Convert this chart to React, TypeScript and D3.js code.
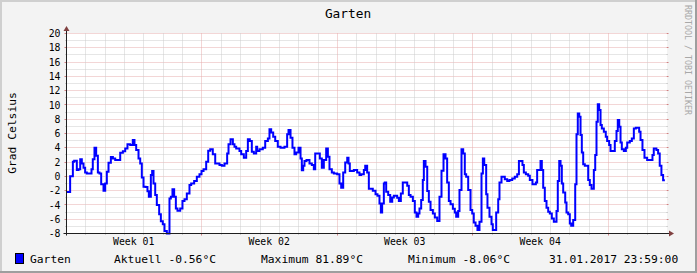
import React from 'react';
import * as d3 from 'd3';

const chartTitle = 'Garten';
const yAxisTitle = 'Grad Celsius';
const watermark = 'RRDTOOL / TOBI OETIKER';
const yTickValues = [-8, -6, -4, -2, 0, 2, 4, 6, 8, 10, 12, 14, 16, 18, 20];
const weekLabels = ['Week 01', 'Week 02', 'Week 03', 'Week 04'];
const weekLabelDays = [3.5, 10.5, 17.5, 24.5];
const totalHours = 744;
const endHour = 742;

// step start (hours since 01.01.2017 00:00) and temperature in °C
const hours = [
  0, 4.5, 7.9, 9.5, 12.8, 14.9, 17, 19, 21.1, 23.1, 25.2, 31, 32.6, 34.7, 36.8, 38.9, 40.9, 43, 45.9, 48,
  50, 52.1, 55, 57.5, 60.4, 66.6, 69.9, 72.8, 75.6, 79, 82.2, 84.3, 86.4, 89.3, 91.4, 93.4, 95.5, 98, 100.4, 102.1,
  104.6, 106.2, 107.9, 110, 112, 114.9, 117, 119.4, 121.5, 124.4, 127.7, 129.4, 131.4, 133.5, 135.6, 137.6, 141, 143.8, 146.3, 149.2,
  152.5, 154.6, 158.3, 161.6, 164.9, 167.4, 169.9, 173.2, 175.7, 178.2, 181.4, 184.4,
  189.7, 192.6, 195.9, 199.2, 200.9, 203.4, 206.3, 208.3, 210.4, 214.5, 216.6, 219.9, 222.8, 224.9, 227.3, 229.8, 232.3, 235.2, 236.4, 239.3,
  243.4, 246.4, 249.7, 251.7, 253.8, 256.3, 258.8, 262, 265.4, 270.3, 273.6, 275.3, 277.8, 280.2, 282.7, 284.8, 287.7, 290.2, 291.8, 293.5,
  295.1, 297.6, 301.3, 304.2, 306.7, 308.4, 314.1, 316.6, 319.1, 322, 324.1, 326.1, 329, 331.5, 335.6, 338.5, 340.6, 343.1, 345.6, 348.1,
  349.7, 351.3, 356.3, 360.4, 363.3, 365.4, 368.7, 370.4, 372.8,
  374.9, 379.8, 383.2, 385.6, 388.1, 389.8, 391.4, 393.5, 394.7, 396.4, 398.9, 401.4, 403.9, 405.9, 410, 412.1, 414.6, 417, 422.5, 424.5,
  426.6, 429.5, 431.9, 434, 436.1, 437.7, 439.8, 441.8, 443.1, 445.2, 447.3, 449.3, 451.4, 454.3, 456.7, 459.7, 462.5, 465, 467.5, 470,
  472, 474.1, 476.2, 479.1, 481.5, 483.2, 485.7, 487.3, 489.8, 491.9, 493.9, 495.6, 498.1, 501, 503.1, 505, 507.2, 509.6, 512.1, 514.6,
  516.3, 518, 520.4, 522, 524.5, 527, 528.6, 532.8, 535.3, 536.9, 539.4, 543.5, 546.5, 549.3, 552.7, 555.9, 558.9,
  561, 565.4, 567.1, 569.6, 572.5, 574.5, 577.8, 582, 583.6, 587.8, 589.4, 591.1, 593.1, 595.2, 597.3, 599.3, 601.8, 604.3, 607.6, 609.2,
  611, 612.6, 614.2, 615.9, 618.4, 620, 622.1, 624.1, 625.8, 628.3, 630.8, 632.4, 634, 635.8, 637.4, 639, 640.7, 642.7, 646.9, 648.9,
  651, 653.9, 655.6, 657.2, 658.8, 660.5, 662.2, 663.8, 666.3, 668.7, 670.4, 672.9, 674.6, 679.9, 682, 683.6, 685.4, 687, 688.6, 691.1,
  693.6, 695.3, 698.5, 701, 703.5, 706, 710.1, 711.8, 714.2, 716.7, 720, 726.6, 728.2, 731.5, 733.6, 735.6, 737.7, 739.8,
];

const temps = [
  -2.2, 0, 2.05, 2.2, 0.9, 1.0, 2.4, 1.8, 1.2, 0.55, 0.4, 1.0, 2.4, 4.0, 2.9, 0.55, 0.4, -1.1, -2.0, -1.0,
  0.65, 1.9, 2.7, 2.5, 2.3, 3.3, 3.5, 3.9, 4.5, 4.4, 5.1, 4.4, 3.7, 2.5, 1.8, -0.15, -1.45, -1.5, -2.1, -2.85,
  0.2, 0.75, -1.0, -2.6, -4.0, -5.3, -6.3, -6.7, -7.65, -8.0, -3.1, -2.85, -1.8, -2.85, -4.5, -4.8, -4.5, -3.45, -3.2, -2.4,
  -1.2, -1.0, -0.65, -0.05, 0.3, 0.75, 1.0, 2.05, 3.6, 3.8, 3.1, 1.8,
  1.6, 1.5, 1.8, 3.2, 4.5, 5.2, 4.5, 4.15, 3.9, 3.55, 3.1, 2.6, 3.55, 5.2, 4.95, 3.45, 3.2, 4.15, 3.55, 3.8,
  4.0, 4.95, 5.3, 6.6, 6.15, 5.55, 4.95, 4.15, 4.0, 4.15, 5.9, 6.5, 5.4, 4.0, 3.1, 3.35, 4.0, 2.5, 0.85, 1.5,
  2.15, 2.3, 1.8, 1.6, 1.0, 3.2, 2.5, 1.2, 2.3, 3.9, 2.75, 1.0, 0.55, 0.4, 0.3, -1.0, -1.6, 0.55, 1.95, 2.6,
  1.8, 0.75, 0.9, 0.55, 0.2, 0.3, 0.9, 1.5, 0.55,
  -1.75, -2.0, -2.5, -2.7, -3.8, -5.05, -3.8, -1.0, -0.85, -2.15, -2.6, -3.55, -2.95, -2.7, -3.0, -3.45, -2.4, -0.85, -1.3, -2.6,
  -2.85, -3.45, -5.05, -5.65, -5.2, -4.5, -3.3, -0.5, 2.15, 1.35, -2.05, -3.55, -4.7, -5.2, -5.75, -6.25, -2.85, 0.8, 3.1, 2.5,
  -0.85, -3.45, -3.9, -4.55, -5.05, -5.65, -4.85, -1.9, 3.8, 3.2, 0.3, -0.05, -1.9, -4.7, -5.2, -6.45, -6.9, -7.5, -6.35, 0.4,
  2.5, 1.6, -2.5, -4.4, -5.65, -6.7, -7.5, -5.05, -3.2, -0.85, -0.05, -0.4, -0.65, -0.5, -0.3, -0.05, 0.3,
  2.15, 1.6, 0.55, 0.3, 0.1, -0.5, -1.1, -0.85, 0.9, 2.15, 0.9, -1.6, -3.45, -4.4, -4.95, -5.2, -5.9, -6.35, -4.85, -0.65,
  2.15, 1.5, -1.0, -2.25, -3.65, -5.05, -5.3, -6.6, -6.9, -6.1, -1.1, 5.9, 8.8, 8.35, 5.8, 3.35, 1.7, 1.5, -0.5, -1.2,
  -1.75, 0.9, 3.0, 7.65, 10.1, 9.3, 7.2, 6.7, 6.25, 5.55, 4.95, 4.4, 3.55, 4.95, 6.35, 7.9, 6.95, 4.75, 3.8, 3.55,
  4.0, 4.75, 4.95, 5.3, 6.7, 6.8, 6.25, 5.1, 3.7, 2.6, 2.3, 3.0, 3.9, 3.7, 3.2, 1.5, 0.2, -0.56,
];

const legendName = 'Garten';
const legendStats = ['Aktuell -0.56°C', 'Maximum 81.89°C', 'Minimum -8.06°C'];
const legendStamp = '31.01.2017 23:59:00';

const FONT = '"DejaVu Sans Mono", "Liberation Mono", monospace';

export default function App() {
  const W = 697;
  const H = 273;
  const x = d3.scaleLinear().domain([0, totalHours]).range([66.5, 666.5]);
  const y = d3.scaleLinear().domain([-8, 20]).range([233.5, 33.5]);
  const snap = (v: number) => Math.floor(v) + 0.5;
  const x0 = x(0), x1 = x(totalHours), y0 = y(-8), y1 = y(20);

  const pts: [number, number][] = hours.map((h, i) => [h, temps[i]]);
  pts.push([endHour, temps[temps.length - 1]]);
  const line = d3.line<[number, number]>()
    .x(d => x(d[0]))
    .y(d => y(Math.max(-8, d[1])))
    .curve(d3.curveStepAfter);

  const hVals = d3.range(-7, 21);
  const days = d3.range(1, 31);
  const minorCol = '#cdcdcd';
  const majorCol = '#e6acac';

  const legendX = [114, 261, 408];

  return (
    <svg width={W} height={H} style={{ position: 'absolute', left: 0, top: 0, display: 'block' }}>
      <rect x={0} y={0} width={W} height={H} fill="#f3f3f3" />
      <rect x={0} y={0} width={W} height={2} fill="#cfcfcf" />
      <rect x={0} y={0} width={2} height={H} fill="#cfcfcf" />
      <rect x={0} y={H - 2} width={W} height={2} fill="#9e9e9e" />
      <rect x={W - 2} y={0} width={2} height={H} fill="#9e9e9e" />
      <rect x={x0 + 0.5} y={y1 - 0.5} width={x1 - x0} height={y0 - y1} fill="#ffffff" />

      {/* horizontal grid */}
      {hVals.map(v => {
        const yy = snap(y(v));
        const major = v % 2 === 0;
        return (
          <g key={'h' + v}>
            <line x1={x0} x2={x1} y1={yy} y2={yy} stroke={major ? majorCol : minorCol} strokeWidth={1} strokeDasharray="1,1" />
            <line x1={x0 - (major ? 2 : 1)} x2={x0} y1={yy} y2={yy} stroke={major ? '#d08080' : '#aaaaaa'} strokeWidth={1} />
            <line x1={x1} x2={x1 + (major ? 2 : 1)} y1={yy} y2={yy} stroke={major ? '#d08080' : '#aaaaaa'} strokeWidth={1} />
          </g>
        );
      })}
      {/* vertical grid */}
      {days.map(d => {
        const xx = snap(x(d * 24));
        const major = d % 7 === 0;
        return (
          <g key={'v' + d}>
            <line x1={xx} x2={xx} y1={y1} y2={y0} stroke={major ? majorCol : minorCol} strokeWidth={1} strokeDasharray="1,1" />
            <line x1={xx} x2={xx} y1={y0} y2={y0 + (major ? 2 : 1)} stroke={major ? '#d08080' : '#aaaaaa'} strokeWidth={1} />
          </g>
        );
      })}

      {/* data */}
      <path d={line(pts) || ''} fill="none" stroke="#0000ff" strokeWidth={2} strokeLinejoin="miter" />

      {/* axes */}
      <line x1={x0} x2={x0} y1={y0 + 2} y2={29} stroke="#1f1f1f" strokeWidth={1} />
      <line x1={x0 - 3} x2={670} y1={y0} y2={y0} stroke="#1f1f1f" strokeWidth={1} />
      <path d={`M${x0 - 3},${31} L${x0 + 3},${31} L${x0},${26} Z`} fill="#804040" />
      <path d={`M${669},${y0 - 3} L${669},${y0 + 3} L${674},${y0} Z`} fill="#804040" />

      {/* y tick labels */}
      {yTickValues.map(v => (
        <text key={'yl' + v} x={60.5} y={y(v) + 3.6} textAnchor="end" fontFamily={FONT} fontSize={9.8} fill="#000">{v}</text>
      ))}
      {/* x labels */}
      {weekLabels.map((l, i) => (
        <text key={l} x={x(weekLabelDays[i] * 24) - 0.5} y={245} textAnchor="middle" fontFamily={FONT} fontSize={9.8} fill="#000">{l}</text>
      ))}

      {/* titles */}
      <text x={348} y={18.3} textAnchor="middle" fontFamily={FONT} fontSize={12.8} fill="#000">{chartTitle}</text>
      <text transform="translate(16,133) rotate(-90)" textAnchor="middle" fontFamily={FONT} fontSize={11.3} fill="#000">{yAxisTitle}</text>
      <text transform="translate(685,5) rotate(90)" textAnchor="start" fontFamily={FONT} fontSize={8.3} fill="#a8a8a8">{watermark}</text>

      {/* legend */}
      <rect x={15.5} y={253.5} width={8} height={10} fill="#0000ff" stroke="#000" strokeWidth={1} />
      <text x={30} y={263} fontFamily={FONT} fontSize={11.3} fill="#000">{legendName}</text>
      {legendStats.map((s, i) => (
        <text key={s} x={legendX[i]} y={263} fontFamily={FONT} fontSize={11.3} fill="#000" style={{ whiteSpace: 'pre' }}>{s}</text>
      ))}
      <text x={549} y={263} fontFamily={FONT} fontSize={11.3} fill="#000">{legendStamp}</text>
    </svg>
  );
}
